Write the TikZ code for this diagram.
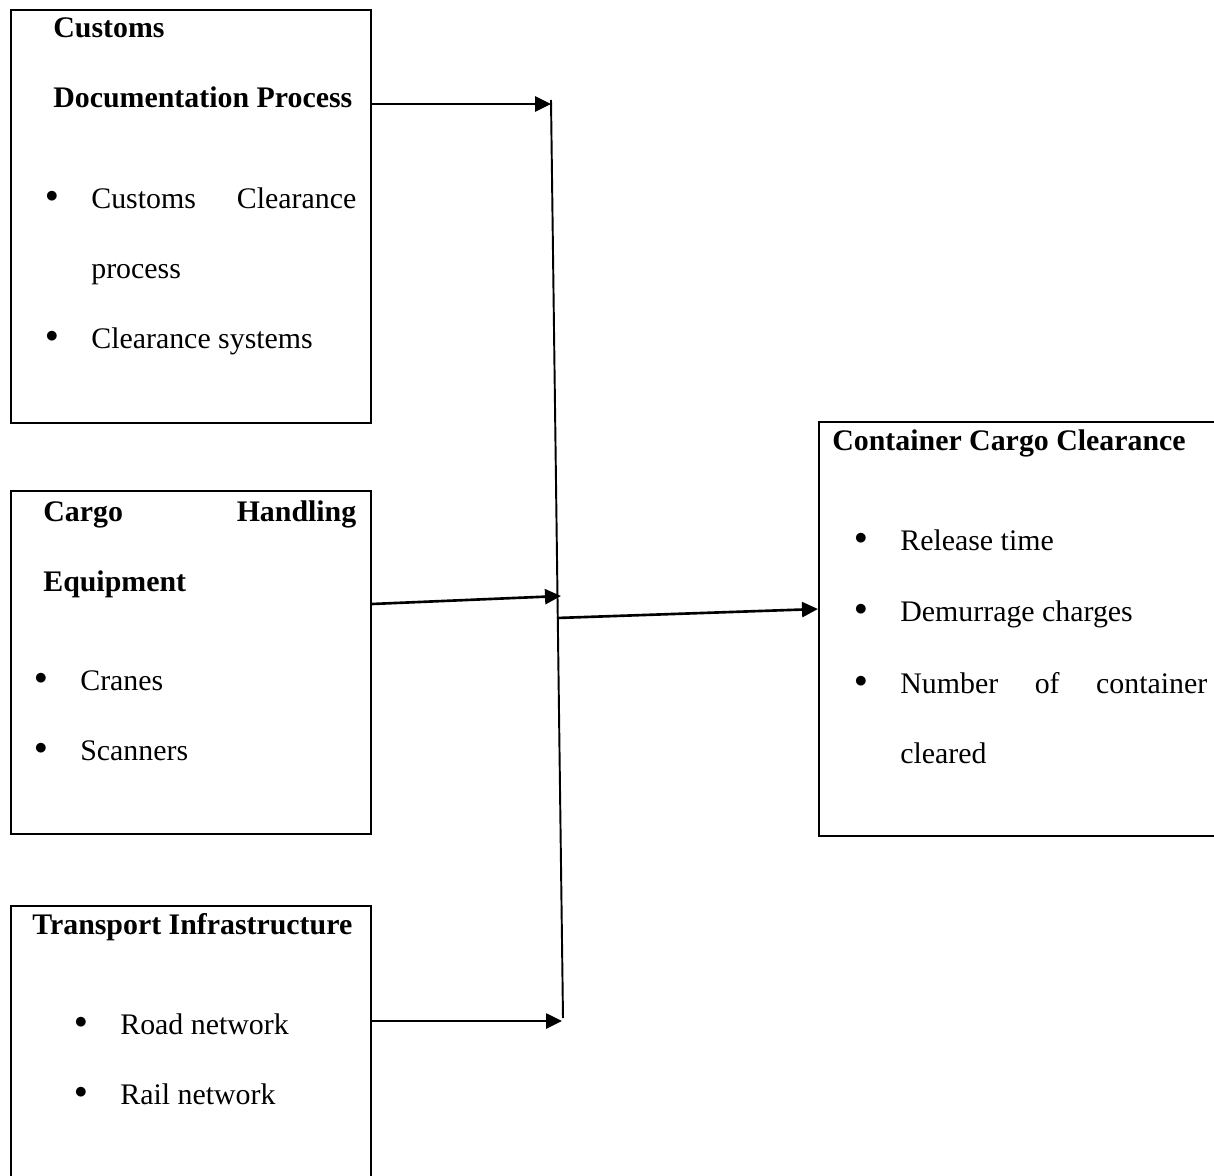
\documentclass[tikz,border=0pt]{standalone}
\usepackage{fontspec}
\setmainfont{Liberation Serif}
\usetikzlibrary{arrows.meta, calc}
\tikzset{
  block/.style={
    draw,
    line width=1.1pt,
    anchor=north west,
    inner sep=0pt
  },
  txt/.style={
    anchor=base west,
    inner sep=0pt,
    font=\fontsize{17}{20}\selectfont
  },
  head/.style={
    txt,
    font=\fontsize{17}{20}\selectfont\bfseries
  },
  bul/.style={
    anchor=center,
    inner sep=0pt,
    font=\fontsize{15}{15}\selectfont
  },
  link/.style={
    line width=1.5pt,
    -{Triangle[length=3.2mm, width=3mm]}
  },
  bar/.style={
    line width=1.1pt
  }
}

\begin{document}
\begin{tikzpicture}[x=0.02cm, y=-0.02cm]
  \useasboundingbox (0,0) rectangle (1214,1176);
  \clip (0,0) rectangle (1214,1176);

  \node[block, minimum width=7.2cm, minimum height=8.26cm] (docs) at (10,9) {};
  \node[block, minimum width=7.2cm, minimum height=6.86cm] (equip) at (10,490) {};
  \node[block, minimum width=7.2cm, minimum height=5.9cm] (infra) at (10,905) {};
  \node[block, minimum width=8.24cm, minimum height=8.28cm] (clear) at (818,421) {};

  \node[head] (docsA) at (53,38) {Customs};
  \node[head] (docsB) at (53,108) {Documentation Process};
  \node[bul] (docsD1) at (52,197) {$\bullet$};
  \node[txt] (docsI1) at (91,208) {\hbox to 5.3cm{Customs\hfill Clearance}};
  \node[txt] (docsI1b) at (91,278) {process};
  \node[bul] (docsD2) at (52,337) {$\bullet$};
  \node[txt] (docsI2) at (91,348) {Clearance systems};

  \node[head] (equipA) at (43,521) {\hbox to 6.26cm{Cargo\hfill Handling}};
  \node[head] (equipB) at (43,591) {Equipment};
  \node[bul] (equipD1) at (41,679) {$\bullet$};
  \node[txt] (equipI1) at (80,690) {Cranes};
  \node[bul] (equipD2) at (41,749) {$\bullet$};
  \node[txt] (equipI2) at (80,760) {Scanners};

  \node[head] (infraA) at (32,934) {Transport Infrastructure};
  \node[bul] (infraD1) at (81,1023) {$\bullet$};
  \node[txt] (infraI1) at (120,1034) {Road network};
  \node[bul] (infraD2) at (81,1093) {$\bullet$};
  \node[txt] (infraI2) at (120,1104) {Rail network};

  \node[head] (clearA) at (832,450) {Container Cargo Clearance};
  \node[bul] (clearD1) at (861,539) {$\bullet$};
  \node[txt] (clearI1) at (900,550) {Release time};
  \node[bul] (clearD2) at (861,610) {$\bullet$};
  \node[txt] (clearI2) at (900,621) {Demurrage charges};
  \node[bul] (clearD3) at (861,682) {$\bullet$};
  \node[txt] (clearI3) at (900,693) {\hbox to 6.14cm{Number\hfill of\hfill container}};
  \node[txt] (clearI3b) at (900,763) {cleared};

  \coordinate (bartop) at (551,100);
  \coordinate (barbot) at (563,1018);
  \coordinate (in1) at (551,104);
  \coordinate (in2) at (561,596);
  \coordinate (out3) at (557,618);
  \coordinate (in4) at (562,1021);

  \draw[bar] (bartop) -- (barbot);
  \draw[link] (docs.east |- in1) -- (in1);
  \draw[link] (equip.east |- 0,604) -- (in2);
  \draw[link] (out3) -- (clear.west |- 0,609);
  \draw[link] (infra.east |- in4) -- (in4);
\end{tikzpicture}
\end{document}
